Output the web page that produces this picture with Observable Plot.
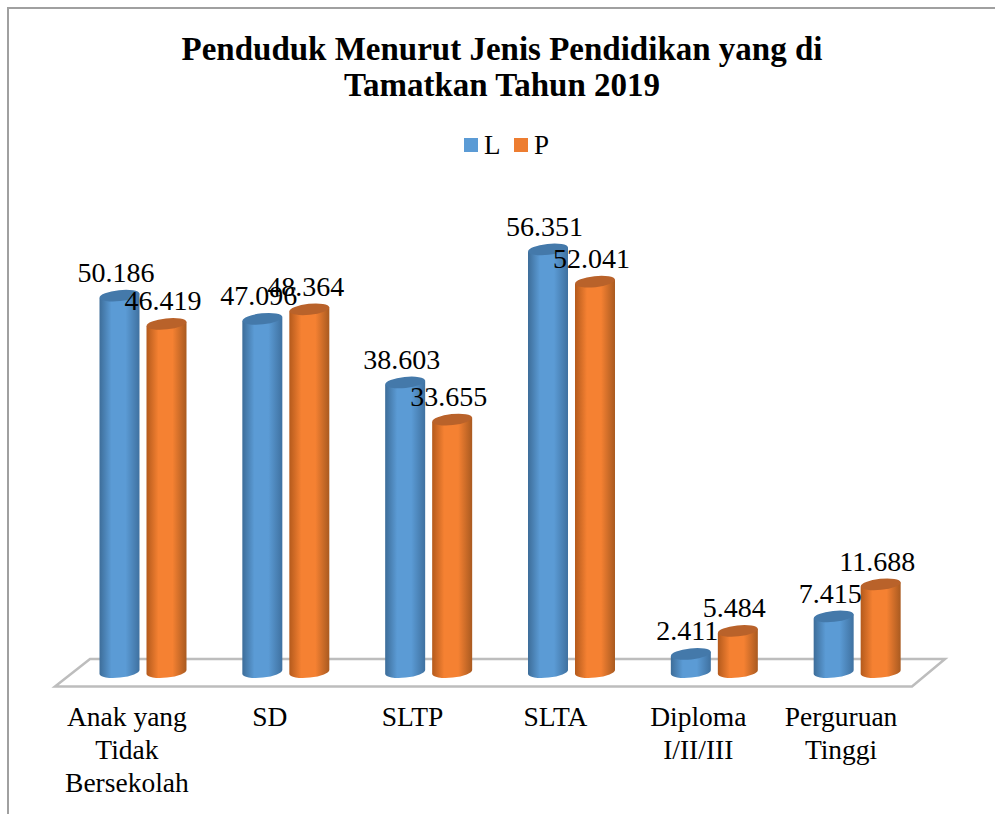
<!DOCTYPE html>
<html>
<head>
<meta charset="utf-8">
<script src="https://cdn.jsdelivr.net/npm/d3@7"></script>
<script src="https://cdn.jsdelivr.net/npm/@observablehq/plot@0.6"></script>
<style>
html,body{margin:0;padding:0;background:#fff;}
body{width:995px;height:814px;overflow:hidden;font-family:"Liberation Serif","Times New Roman",serif;color:#000;position:relative;}
#frame{position:absolute;left:7px;top:7px;right:0;bottom:0;border-left:2px solid #a0a0a0;border-top:2px solid #a0a0a0;}
#title{position:absolute;left:0;top:31px;width:1004px;text-align:center;font-weight:bold;font-size:33px;line-height:36px;}
#legend{position:absolute;left:464px;top:130px;height:30px;display:flex;align-items:center;font-size:27px;}
#legend i{display:inline-block;width:14px;height:14px;margin-right:6px;}
#legend span{display:inline-block;width:30px;}
#chart{position:absolute;left:0;top:170px;}
</style>
</head>
<body>
<div id="frame"></div>
<div id="title">Penduduk Menurut Jenis Pendidikan yang di<br>Tamatkan Tahun 2019</div>
<div id="legend"><i style="background:#5b9bd5"></i><span>L</span><i style="background:#ed7d31"></i><span>P</span></div>
<div id="chart"></div>
<script>
const categories = ["Anak yang\nTidak\nBersekolah", "SD", "SLTP", "SLTA", "Diploma\nI/II/III", "Perguruan\nTinggi"];
const seriesNames = ["L", "P"];
const valuesL = [50186, 47096, 38603, 56351, 2411, 7415];
const valuesP = [46419, 48364, 33655, 52041, 5484, 11688];

const rows = categories.flatMap((category, i) => [
  {category, series: "L", value: valuesL[i]},
  {category, series: "P", value: valuesP[i]}
]);
const fmt = d3.formatLocale({decimal: ",", thousands: ".", grouping: [3], currency: ["", ""]}).format(",d");
const serif = '"Liberation Serif","Times New Roman",serif';

const palette = {
  L: {stops: ["#3d6d99", "#5b9bd5", "#5b9bd5", "#3f71a0"], top: "#4479aa"},
  P: {stops: ["#b45a1c", "#f58132", "#f58132", "#a95a20"], top: "#b9622a"}
};

function floor(index, scales) {
  const g = d3.create("svg:g");
  const d = g.append("defs");
  for (const s of seriesNames) {
    const lg = d.append("linearGradient").attr("id", "cyl" + s);
    palette[s].stops.forEach((c, i) => lg.append("stop").attr("offset", [0, 0.3, 0.65, 1][i]).attr("stop-color", c));
  }
  const left = scales.fx(categories[0]);
  const right = scales.fx(categories[categories.length - 1]) + scales.fx.bandwidth();
  const y0 = scales.y(0);
  const pts = [[left, y0 + 14.5], [left + 35, y0 - 13], [right + 33, y0 - 13], [right, y0 + 14.5]];
  g.append("path")
    .attr("d", "M" + pts.join("L") + "Z")
    .attr("fill", "#fff").attr("stroke", "#bdbdbd").attr("stroke-width", 2.5);
  return g.node();
}

function cylinders(index, scales, values) {
  const g = d3.create("svg:g");
  const w = scales.x.bandwidth(), rx = w / 2, ry = 5.5, tilt = -6;
  for (const i of index) {
    const s = rows[i].series;
    const x = values.x[i];
    const yb = values.y1[i], yt = values.y2[i];
    const dyTilt = Math.tan(tilt * Math.PI / 180) * rx;
    g.append("path")
      .attr("d", `M${x},${yt - dyTilt}L${x},${yb - dyTilt}A${rx},${ry} ${tilt} 0 0 ${x + w},${yb + dyTilt}L${x + w},${yt + dyTilt}Z`)
      .attr("fill", `url(#cyl${s})`);
    g.append("ellipse")
      .attr("cx", x + rx).attr("cy", yt).attr("rx", rx).attr("ry", ry)
      .attr("transform", `rotate(${tilt} ${x + rx} ${yt})`)
      .attr("fill", palette[s].top);
  }
  return g.node();
}

const svg = Plot.plot({
  width: 995,
  height: 644,
  marginLeft: 55,
  marginRight: 83,
  marginTop: 0,
  marginBottom: 127,
  style: {background: "transparent", fontFamily: serif},
  fx: {domain: categories, padding: 0, round: false, axis: null},
  x: {domain: seriesNames, range: [92.5, 193.5], padding: 0.149, round: false, axis: null},
  y: {domain: [0, 60000], range: [502, 52], axis: null},
  marks: [
    Plot.frame({facet: "super", render: floor}),
    Plot.barY(rows, {fx: "category", x: "series", y: "value", render: cylinders}),
    Plot.text(rows, {
      fx: "category", x: "series", y: "value", text: d => fmt(d.value),
      dx: -4, dy: -23, fontSize: 28, fill: "#000", fontFamily: serif
    }),
    Plot.axisFx({
      anchor: "bottom", tickSize: 0, tickPadding: 15, fontSize: 27.5, lineHeight: 1.2,
      lineAnchor: "top", label: null, tickFormat: d => d, fill: "#000", fontFamily: serif
    })
  ]
});
document.getElementById("chart").appendChild(svg);
</script>
</body>
</html>
